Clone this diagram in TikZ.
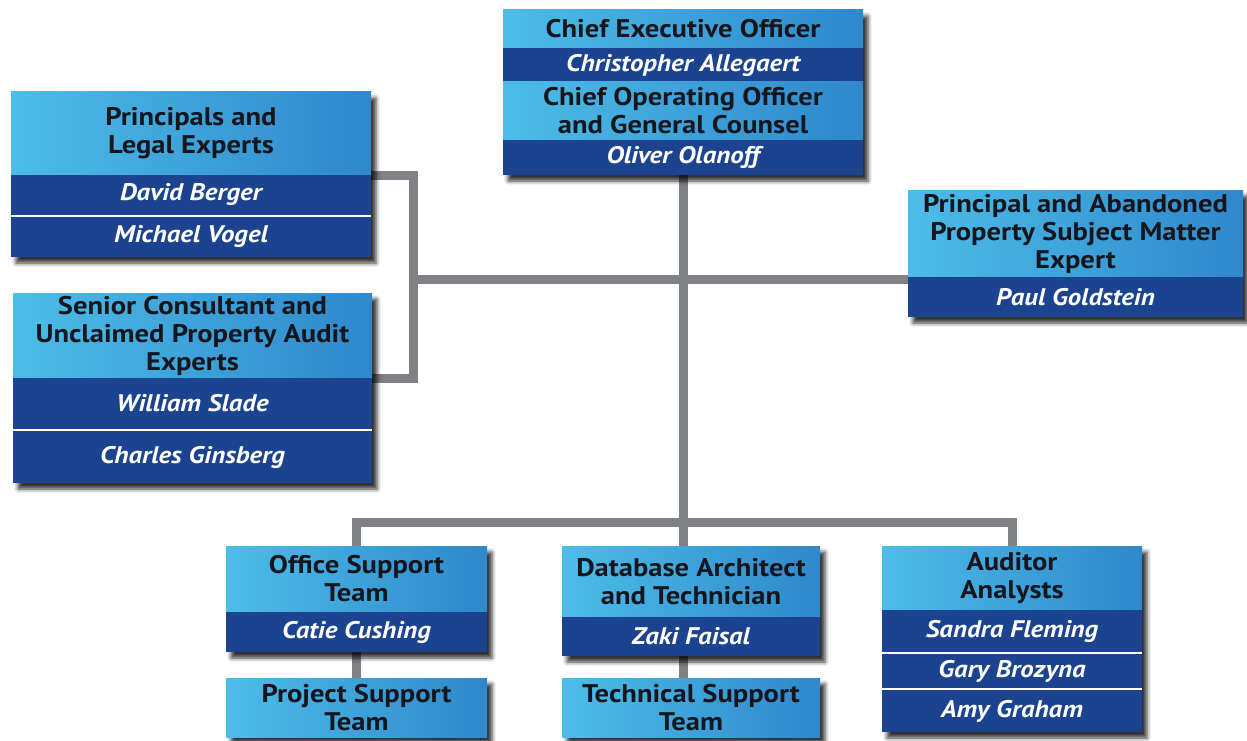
\documentclass[tikz,border=0pt]{standalone}
\usepackage{fontspec}
\setmainfont{PT Sans}[FakeStretch=1.12]
\usetikzlibrary{shadows.blur}
\pgfdeclarelayer{bg}
\pgfsetlayers{bg,main}
\definecolor{hdrL}{HTML}{4CBDE8}
\definecolor{hdrR}{HTML}{2F88CB}
\definecolor{darkband}{HTML}{1B438F}
\definecolor{hdrtext}{HTML}{16161E}
\definecolor{linegray}{HTML}{808185}
\begin{document}
\begin{tikzpicture}[x=1pt,y=-1pt,
 boxbg/.style={anchor=north west, inner sep=0, outer sep=0, fill=white, blur shadow={shadow xshift=5pt, shadow yshift=-6pt, shadow blur radius=4pt, shadow opacity=80}},
 hdr/.style={anchor=north west, inner sep=0, outer sep=0, left color=hdrL, right color=hdrR, align=center, text=hdrtext, font=\bfseries\fontsize{25.5}{28}\selectfont},
 nm/.style={anchor=north west, inner sep=0, outer sep=0, fill=darkband, text=white, font=\bfseries\itshape\fontsize{24}{26}\selectfont},
 conn/.style={draw=linegray, line width=9pt}]
\useasboundingbox (0,0) rectangle (1247,741);

% CEO
\node[boxbg, minimum width=360, minimum height=165] (ceo) at (503,10) {};
\node[hdr, minimum width=360, minimum height=38] (ceo-h1) at (503,10) {Chief Executive Officer};
\node[nm, minimum width=360, minimum height=34] (ceo-d1) at (503,48) {Christopher Allegaert};
\node[hdr, minimum width=360, minimum height=58] (ceo-h2) at (503,82) {Chief Operating Officer\\and General Counsel};
\node[nm, minimum width=360, minimum height=35] (ceo-d2) at (503,140) {Oliver Olanoff};

% Principals
\node[boxbg, minimum width=360, minimum height=165] (pr) at (11,92) {};
\node[hdr, minimum width=360, minimum height=83] (pr-h) at (11,92) {Principals and\\Legal Experts};
\node[nm, minimum width=360, minimum height=40] (pr-d1) at (11,175) {David Berger};
\node[nm, minimum width=360, minimum height=40] (pr-d2) at (11,217) {Michael Vogel};

% Senior consultant
\node[boxbg, minimum width=359, minimum height=190] (sr) at (13,293) {};
\node[hdr, minimum width=359, minimum height=85] (sr-h) at (13,293) {Senior Consultant and\\Unclaimed Property Audit\\Experts};
\node[nm, minimum width=359, minimum height=51] (sr-d1) at (13,378) {William Slade};
\node[nm, minimum width=359, minimum height=52] (sr-d2) at (13,431) {Charles Ginsberg};

% Principal and Abandoned Property
\node[boxbg, minimum width=335, minimum height=127] (pap) at (908,190) {};
\node[hdr, minimum width=335, minimum height=87] (pap-h) at (908,190) {Principal and Abandoned\\Property Subject Matter\\Expert};
\node[nm, minimum width=335, minimum height=40] (pap-d1) at (908,277) {Paul Goldstein};

% Office support
\node[boxbg, minimum width=261, minimum height=106] (office) at (226,546) {};
\node[hdr, minimum width=261, minimum height=66] (office-h) at (226,546) {Office Support\\Team};
\node[nm, minimum width=261, minimum height=40] (office-d1) at (226,612) {Catie Cushing};

% Project support
\node[boxbg, minimum width=261, minimum height=59] (proj) at (226,678) {};
\node[hdr, minimum width=261, minimum height=59] (proj-h) at (226,678) {Project Support\\Team};

% Database
\node[boxbg, minimum width=258, minimum height=110] (db) at (562,546) {};
\node[hdr, minimum width=258, minimum height=71] (db-h) at (562,546) {Database Architect\\and Technician};
\node[nm, minimum width=258, minimum height=39] (db-d1) at (562,617) {Zaki Faisal};

% Technical support
\node[boxbg, minimum width=258, minimum height=59] (tech) at (562,678) {};
\node[hdr, minimum width=258, minimum height=59] (tech-h) at (562,678) {Technical Support\\Team};

% Auditor analysts
\node[boxbg, minimum width=260, minimum height=186] (aud) at (882,546) {};
\node[hdr, minimum width=260, minimum height=64] (aud-h) at (882,546) {Auditor\\Analysts};
\node[nm, minimum width=260, minimum height=42] (aud-d1) at (882,610) {Sandra Fleming};
\node[nm, minimum width=260, minimum height=34] (aud-d2) at (882,654) {Gary Brozyna};
\node[nm, minimum width=260, minimum height=42] (aud-d3) at (882,690) {Amy Graham};

% connectors
\coordinate (brk) at (413,279);
\begin{pgfonlayer}{bg}
\draw[conn] (ceo.south) -- (ceo.south |- db.north);
\draw[conn] (brk) -- (brk -| pap.west);
\draw[conn] (pr-d1.north east) -| (brk) |- (sr-d1.north east);
\draw[conn] (office.north) -- ++(0,-24) -| (aud.north);
\draw[conn] (office.south) -- (proj.north);
\draw[conn] (ceo.south |- db.south) -- (ceo.south |- tech.north);
\end{pgfonlayer}
\end{tikzpicture}
\end{document}
